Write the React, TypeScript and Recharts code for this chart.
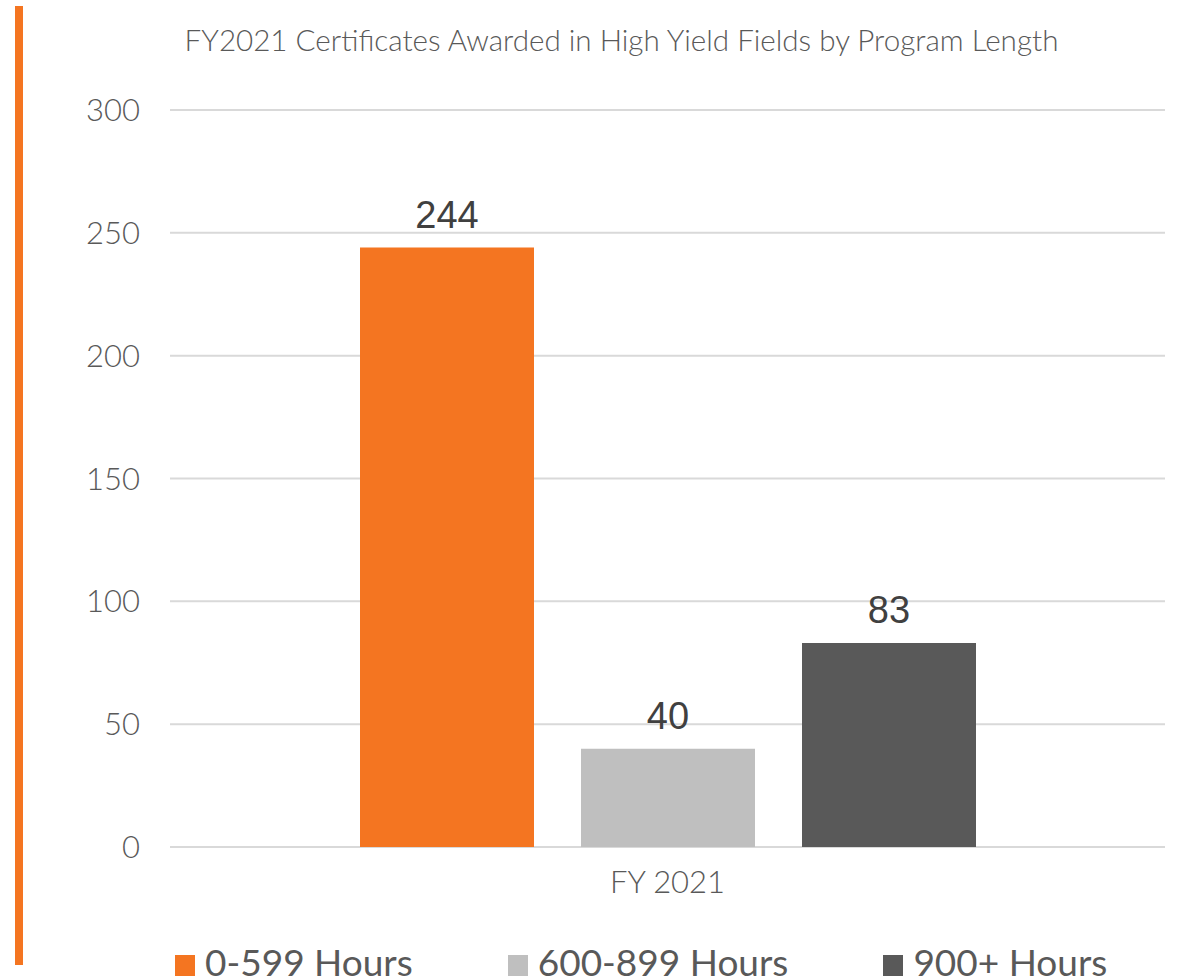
import React from 'react';
import { BarChart, Bar, XAxis, YAxis, CartesianGrid, LabelList } from 'recharts';

const categories = ['FY 2021'];
const seriesNames = ['0-599 Hours', '600-899 Hours', '900+ Hours'];
const seriesValues = [244, 40, 83];
const seriesColors = ['#F47521', '#BFBFBF', '#595959'];
const yTicks = [0, 50, 100, 150, 200, 250, 300];

const data = categories.map((c) => {
  const row: Record<string, any> = { name: c };
  seriesNames.forEach((s, i) => {
    row[s] = seriesValues[i];
  });
  return row;
});

export default function App() {
  return (
    <div style={{ position: 'absolute', left: 0, top: 0, width: 1178, height: 979, background: '#fff', overflow: 'hidden' }}>
      {/* orange accent stripe */}
      <div style={{ position: 'absolute', left: 15, top: 6, width: 8, height: 959, background: '#F47521' }} />
      <div
        style={{
          position: 'absolute',
          top: 22,
          left: 0,
          width: 1243,
          textAlign: 'center',
          fontFamily: 'Lato',
          fontWeight: 300,
          fontSize: 29.6,
          color: '#595959',
          whiteSpace: 'nowrap',
        }}
      >
        FY2021 Certificates Awarded in High Yield Fields by Program Length
      </div>
      <BarChart
        width={1178}
        height={979}
        data={data}
        margin={{ top: 110, right: 13, left: 110, bottom: 102 }}
        barCategoryGap={190}
        barGap={47}
      >
        <CartesianGrid vertical={false} stroke="#D9D9D9" strokeWidth={2} />
        <XAxis
          dataKey="name"
          height={30}
          axisLine={false}
          tickLine={false}
          tickSize={0}
          tickMargin={24}
          tick={{ fill: '#595959', fontSize: 31, fontFamily: 'Lato', fontWeight: 300 }}
        />
        <YAxis
          width={60}
          domain={[0, 300]}
          ticks={yTicks}
          axisLine={false}
          tickLine={false}
          tickSize={0}
          tickMargin={30}
          tick={{ fill: '#595959', fontSize: 31, fontFamily: 'Lato', fontWeight: 300 }}
        />
        {seriesNames.map((s, i) => (
          <Bar key={s} dataKey={s} fill={seriesColors[i]} isAnimationActive={false}>
            <LabelList
              dataKey={s}
              position="top"
              offset={20}
              fill="#404040"
              fontSize={38}
              fontFamily="Liberation Sans"
            />
          </Bar>
        ))}
      </BarChart>
      {/* legend */}
      <div
        style={{
          position: 'absolute',
          left: 175,
          top: 942,
          display: 'flex',
          gap: 95,
          fontFamily: 'Lato',
          fontSize: 37,
          lineHeight: '40px',
          color: '#595959',
          whiteSpace: 'nowrap',
        }}
      >
        {seriesNames.map((s, i) => (
          <div key={s} style={{ display: 'flex', alignItems: 'center' }}>
            <span style={{ display: 'inline-block', width: 20, height: 21, background: seriesColors[i], marginRight: 10, marginTop: 6 }} />
            <span>{s}</span>
          </div>
        ))}
      </div>
    </div>
  );
}
